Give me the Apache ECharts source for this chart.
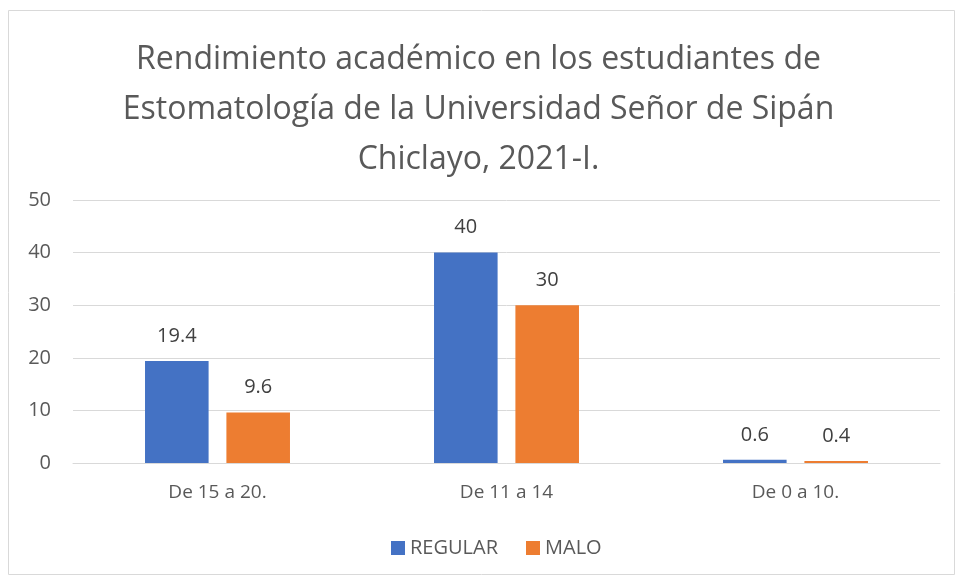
<!DOCTYPE html>
<html>
<head>
<meta charset="utf-8">
<script src="https://cdn.jsdelivr.net/npm/echarts@6/dist/echarts.min.js"></script>
<style>
html, body { margin: 0; padding: 0; background: #fff; }
#main { width: 957px; height: 578px; }
</style>
</head>
<body>
<div id="main"></div>
<script>
// categorias y valores
const categories = ['De 15 a 20.', 'De 11 a 14', 'De 0 a 10.'];
const regular = [19.4, 40, 0.6];
const malo = [9.6, 30, 0.4];
const seriesNames = ['REGULAR', 'MALO'];

const chart = echarts.init(document.getElementById('main'));

const labelStyle = {
    show: true, position: 'top', distance: 15,
    color: '#404040', fontSize: 20, fontFamily: 'Open Sans'
};

const option = {
    title: {
        text: 'Rendimiento académico en los estudiantes de\nEstomatología de la Universidad Señor de Sipán\nChiclayo, 2021-I.',
        left: 'center', top: 30,
        textStyle: { color: '#595959', fontSize: 32, fontWeight: 'normal', fontFamily: 'Open Sans', lineHeight: 50 }
    },
    graphic: [{
        type: 'rect', shape: { x: 8.5, y: 10.5, width: 946, height: 564 },
        style: { fill: 'none', stroke: '#d9d9d9', lineWidth: 1 }, silent: true
    }],
    legend: {
        data: seriesNames, bottom: 15, left: 386,
        itemWidth: 14, itemHeight: 14, itemGap: 28, icon: 'rect',
        textStyle: { color: '#595959', fontSize: 20, fontFamily: 'Open Sans' }
    },
    grid: { left: 73, right: 17, top: 200, bottom: 115 },
    xAxis: {
        type: 'category', data: categories,
        axisTick: { show: false },
        axisLine: { show: true, lineStyle: { color: '#d9d9d9', width: 1 } },
        axisLabel: { color: '#595959', fontSize: 19, fontFamily: 'Open Sans', margin: 20 }
    },
    yAxis: {
        type: 'value', min: 0, max: 50, interval: 10,
        axisLine: { show: false }, axisTick: { show: false },
        splitLine: { lineStyle: { color: '#d9d9d9', width: 1 } },
        axisLabel: { color: '#595959', fontSize: 20, fontFamily: 'Open Sans', margin: 22 }
    },
    series: [
        { name: seriesNames[0], type: 'bar', data: regular, barWidth: '22%', barGap: '28%',
          itemStyle: { color: '#4472c4' }, label: labelStyle },
        { name: seriesNames[1], type: 'bar', data: malo, barWidth: '22%',
          itemStyle: { color: '#ed7d31' }, label: labelStyle }
    ]
};

chart.setOption(option);
</script>
</body>
</html>
